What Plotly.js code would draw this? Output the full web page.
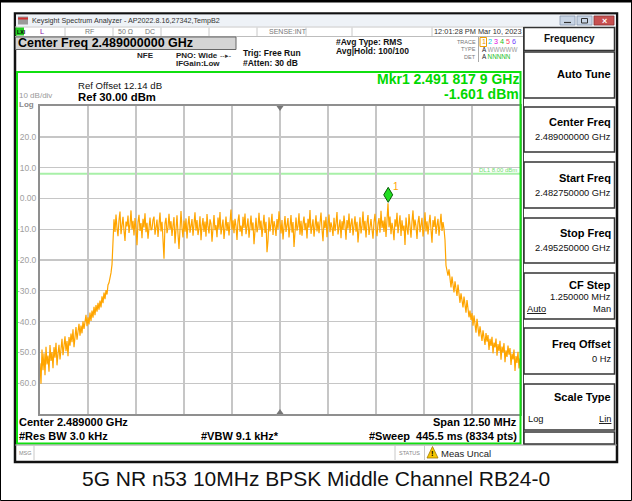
<!DOCTYPE html>
<html>
<head>
<meta charset="utf-8">
<script src="https://cdn.plot.ly/plotly-3.0.1.min.js"></script>
<style>
html,body{margin:0;padding:0;background:#fff;overflow:hidden;}
#chart{width:632px;height:501px;}
</style>
</head>
<body>
<div id="chart"></div>
<script>
// ---------------- DATA ----------------
const startFreqGHz = 2.48275;
const stopFreqGHz = 2.49525;
const centerFreqGHz = 2.489;
const refLevelDbm = 30;
const bottomLevelDbm = -70;
const displayLineDbm = 8.0;
const markerFreqGHz = 2.4918179;
const markerDbm = -1.601;

const yTickVals = [20, 10, 0, -10, -20, -30, -40, -50, -60];
const yTickText = ['20.0', '10.0', '0.00', '-10.0', '-20.0', '-30.0', '-40.0', '-50.0', '-60.0'];

// lower skirt (left of channel)
const leftSkirtDbm = [
 -53.5,-60.2,-49.1,-55.8,-50.3,-57.4,-48.2,-53.9,-51.0,-56.3,
 -47.6,-52.8,-49.9,-55.1,-48.3,-51.7,-46.9,-54.2,-50.4,-47.5,
 -52.3,-48.1,-45.6,-50.9,-47.2,-44.8,-49.6,-46.3,-51.2,-45.0,
 -47.8,-43.9,-46.7,-42.5,-48.3,-44.1,-41.8,-45.9,-43.2,-40.7,
 -44.6,-41.3,-43.8,-39.9,-42.4,-40.2,-37.8,-41.5,-38.6,-40.9,
 -37.1,-39.8,-36.4,-38.7,-35.2,-37.9,-34.6,-36.8,-33.9,-36.1,
 -33.2,-35.4,-31.8,-34.0,-30.6,-32.7,-29.8,-31.2,-28.1,-27.4,
 -25.9,-24.2,-21.5,-13.8
];
// occupied channel
const channelDbm = [
 -6.8,-10.9,-5.2,-9.7,-12.3,-7.1,-4.3,-11.6,-8.2,-6.0,
 -10.4,-13.8,-7.5,-9.1,-5.6,-11.2,-8.7,-3.9,-10.1,-7.3,
 -12.0,-6.4,-9.8,-15.2,-7.7,-5.3,-10.6,-8.0,-12.9,-6.6,
 -9.4,-4.8,-11.0,-7.9,-13.1,-8.5,-6.2,-10.3,-9.9,-7.0,
 -5.9,-11.8,-8.4,-6.9,-12.5,-9.2,-4.6,-10.7,-7.6,-13.4,
 -19.6,-8.1,-6.3,-11.3,-9.5,-5.0,-10.0,-7.4,-12.2,-8.8,
 -6.1,-14.6,-9.0,-5.5,-11.5,-16.4,-10.2,-4.1,-9.6,-12.7,
 -7.2,-10.8,-6.5,-13.0,-8.6,-5.7,-11.1,-9.3,-6.7,-12.1,
 -8.3,-4.5,-10.5,-7.0,-11.9,-9.7,-5.8,-13.6,-8.9,-6.4,
 -10.9,-7.5,-12.4,-5.1,-9.1,-11.4,-6.8,-8.2,-14.1,-7.9,
 -5.4,-10.3,-8.7,-12.6,-6.2,-9.9,-4.4,-11.7,-8.0,-6.9,
 -13.2,-9.5,-5.9,-10.6,-7.7,-12.0,-8.4,-3.6,-10.2,-7.1,
 -11.3,-6.6,-9.0,-13.5,-7.3,-5.2,-10.8,-8.8,-12.3,-6.0,
 -9.6,-4.9,-11.6,-8.1,-6.5,-12.8,-9.2,-5.6,-10.4,-7.8,
 -14.9,-8.5,-6.3,-11.0,-9.4,-4.7,-10.1,-7.2,-12.5,-8.9,
 -5.3,-11.2,-7.6,-17.5,-13.7,-6.1,-10.7,-8.3,-5.0,-11.9,
 -7.4,-9.1,-12.2,-6.7,-10.0,-4.2,-8.6,-11.4,-7.0,-13.3,
 -9.3,-5.7,-10.9,-8.0,-6.4,-12.7,-9.6,-5.4,-11.1,-7.7,
 -15.8,-8.7,-6.2,-10.5,-9.0,-4.8,-11.8,-7.3,-12.1,-8.2,
 -5.9,-10.3,-7.9,-13.0,-6.6,-9.5,-3.8,-11.5,-8.4,-6.8,
 -12.4,-9.2,-5.5,-10.7,-7.5,-11.3,-8.8,-4.6,-10.0,-13.9,
 -7.1,-9.7,-6.0,-12.6,-8.5,-5.2,-11.0,-7.8,-9.4,-12.2,
 -6.3,-10.6,-8.1,-4.4,-11.7,-9.0,-6.9,-12.9,-7.4,-10.2,
 -5.6,-8.9,-13.4,-7.0,-9.8,-4.9,-11.2,-8.3,-6.5,-12.0,
 -9.5,-5.8,-10.8,-7.6,-14.3,-8.6,-6.1,-11.4,-9.1,-4.3,
 -10.4,-7.3,-12.7,-8.0,-5.4,-11.9,-9.3,-6.7,-10.1,-13.1,
 -7.7,-5.0,-9.9,-12.3,-8.2,-6.4,-11.1,-4.0,-9.6,-7.2,
 -10.9,-6.0,-12.5,-8.5,-1.601,-9.4,-5.9,-11.6,-7.9,-10.0,
 -13.6,-6.8,-9.2,-4.7,-11.3,-8.4,-5.5,-12.2,-7.1,-10.5,
 -8.8,-15.1,-6.2,-9.7,-11.8,-5.1,-8.0,-12.8,-7.5,-3.9,
 -10.3,-6.9,-9.0,-13.2,-7.8,-5.7,-11.0,-8.6,-6.3,-12.4,
 -9.8,-4.5,-10.7,-7.4,-11.7,-8.2,-5.3,-10.1,-14.4,-7.0,
 -9.3,-5.8,-11.5,-8.7,-6.6,-12.1,-9.5,-5.0,-10.6,-7.7,-9.9
];
// upper skirt (right of channel)
const rightSkirtDbm = [
 -13.5,-21.8,-23.4,-25.1,-23.0,
 -26.1,-28.9,-25.4,-27.8,-30.5,-26.9,-29.3,-31.7,-28.0,-30.2,
 -33.9,-30.8,-32.6,-35.4,-31.9,-34.2,-37.1,-33.0,-35.8,-38.6,
 -36.4,-39.5,-37.2,-41.3,-38.0,-40.4,-43.6,-39.1,-42.2,-44.8,
 -41.5,-43.9,-46.3,-42.8,-45.1,-47.6,-43.7,-46.5,-44.4,-49.2,
 -45.6,-47.9,-44.9,-50.3,-46.8,-48.4,-45.5,-51.1,-47.3,-49.6,
 -46.2,-52.4,-48.1,-50.0,-47.0,-53.2,-49.3,-51.5,-47.8,-50.7,
 -48.6,-54.1,-50.4,-52.3,-49.1,-56.0,-51.2,-53.4,-49.8,-55.2,-51.9
];

// ---------------- BUILD ----------------
const traceDbm = leftSkirtDbm.concat(channelDbm, rightSkirtDbm);
const nPts = traceDbm.length;
const traceFreq = traceDbm.map((_, i) => startFreqGHz + i * (stopFreqGHz - startFreqGHz) / (nPts - 1));
const xGrid = [];
for (let k = 0; k <= 10; k++) xGrid.push(startFreqGHz + k * (stopFreqGHz - startFreqGHz) / 10);

const FONT = 'Liberation Sans, Arial, Helvetica, sans-serif';
const W = 632, H = 501, ML = 40, MR = 112, MT = 106, MB = 87;
const PW = W - ML - MR, PH = H - MT - MB;
const X = p => (p - ML) / PW;
const Y = p => (H - MB - p) / PH;

const shapes = [];
const annotations = [];
function rect(x0, y0, x1, y1, fill, lineColor, lw, layer) {
  shapes.push({type: 'rect', xref: 'paper', yref: 'paper', layer: layer || 'above',
    x0: X(x0), x1: X(x1), y0: Y(y1), y1: Y(y0),
    fillcolor: fill || 'rgba(0,0,0,0)', line: {color: lineColor || 'rgba(0,0,0,0)', width: lw || 0}});
}
function seg(x0, y0, x1, y1, color, width) {
  shapes.push({type: 'line', xref: 'paper', yref: 'paper', x0: X(x0), x1: X(x1), y0: Y(y0), y1: Y(y1),
    line: {color: color, width: width}});
}
function txt(x, y, s, size, color, anchor, extra) {
  annotations.push(Object.assign({xref: 'paper', yref: 'paper', x: X(x), y: Y(y), text: s,
    showarrow: false, xanchor: anchor || 'left', yanchor: 'middle', borderpad: 0,
    font: {family: FONT, size: size, color: color}}, extra || {}));
}

// outer image border
rect(0.5, 0.5, 631.5, 500.5, null, '#000', 1);
seg(0, 1, 632, 1, '#000', 3);
// window frame
rect(15, 13.5, 617, 462, '#ffffff', '#111', 2.5, 'below');
// title bar
rect(16, 14.5, 616, 26.5, '#eef2f7', null, 0);
rect(18, 16.5, 28, 24.5, '#9a9a9a', null, 0);
seg(18, 18.5, 28, 18.5, '#d03030', 2);
txt(31, 20.5, 'Keysight Spectrum Analyzer - AP2022.8.16,27342,TempB2', 7.2, '#333');
rect(560, 16, 575, 25, '#c9d5e5', '#8b9bb0', 0.8);
seg(564, 22.5, 571, 22.5, '#333', 1.2);
rect(577, 16, 592, 25, '#c9d5e5', '#8b9bb0', 0.8);
rect(581.5, 18.5, 587.5, 23, null, '#333', 1);
rect(594, 16, 614, 25, '#c85050', '#8a3030', 0.8);
txt(604, 20.5, '<b>×</b>', 9, '#fff', 'center');

// row 2 (status strip)
seg(15, 27, 523, 27, '#c8c8c8', 1);
seg(15, 36.5, 523, 36.5, '#bdbdbd', 1);
rect(15.5, 27.5, 24, 35.5, '#22cc22', null, 0);
txt(15.8, 31.5, '<b>LXI</b>', 5.2, '#000');
txt(39, 31.5, 'L', 7.5, '#8a10a8');
txt(84, 31.5, 'RF', 7, '#777');
txt(117, 31.5, '50 Ω', 7, '#777');
txt(144, 31.5, 'DC', 7, '#777');
txt(268, 31.5, 'SENSE:INT', 7, '#777');
txt(433, 31.5, '12:01:28 PM Mar 10, 2023', 7.4, '#333');
[65, 113, 161, 209, 257, 306, 352, 432].forEach(x => seg(x, 27.5, x, 36, '#c8c8c8', 1));

// header
rect(15.5, 37, 236, 49.5, '#d4d4d4', '#666', 1);
txt(17, 43.5, '<b>Center Freq 2.489000000 GHz</b>', 12.5, '#000');
txt(136, 55, '<b>NFE</b>', 8, '#222');
txt(175, 55, '<b>PNO: Wide</b>', 8, '#222');
txt(219, 55, '‑‑▸‑', 7, '#333');
txt(175, 64, '<b>IFGain:Low</b>', 8, '#222');
txt(242, 52.5, '<b>Trig: Free Run</b>', 8.5, '#111');
txt(242, 62.5, '<b>#Atten: 30 dB</b>', 8.5, '#111');
txt(335, 42, '<b>#Avg Type: RMS</b>', 8.5, '#111');
txt(335, 51.5, '<b>Avg|Hold: 100/100</b>', 8.5, '#111');
txt(477, 42, 'TRACE', 5.5, '#777', 'right');
txt(477, 49.5, 'TYPE', 5.5, '#777', 'right');
txt(477, 57, 'DET', 5.5, '#777', 'right');
seg(478.5, 37, 478.5, 62, '#aaa', 1);
rect(480, 37.5, 486.5, 46.5, null, '#f0a000', 1);
txt(481, 42, '<span style="color:#e89a00">1</span> <span style="color:#00c8e6">2</span> <span style="color:#e000e0">3</span> <span style="color:#20c020">4</span> <span style="color:#ff4060">5</span> <span style="color:#7040ff">6</span>', 7.2, '#000');
txt(481, 49.5, 'A <span style="color:#9a9a9a">WWWWW</span>', 6.3, '#222');
txt(481, 57, 'A <span style="color:#20c020">NNNNN</span>', 6.3, '#222');

// green graticule frame
rect(17, 72, 520.5, 443.5, null, '#10e010', 2);
txt(77, 85.5, 'Ref Offset 12.14 dB', 9.6, '#111');
txt(77, 97, '<b>Ref 30.00 dBm</b>', 11.3, '#000');
txt(18, 96, '10 dB/div', 8, '#9a9a9a');
txt(18, 105, '<b>Log</b>', 8, '#8a8a8a');
txt(520, 78.5, '<b>Mkr1 2.491 817 9 GHz</b>', 14, '#00d800', 'right');
txt(520, 93.5, '<b>-1.601 dBm</b>', 14, '#00d800', 'right');

// bottom annotation lines
txt(18, 422, '<b>Center 2.489000 GHz</b>', 11, '#000');
txt(518, 422, '<b>Span 12.50 MHz</b>', 11, '#000', 'right');
txt(18, 436, '<b>#Res BW 3.0 kHz</b>', 11, '#000');
txt(200, 436, '<b>#VBW 9.1 kHz*</b>', 11, '#000');
txt(518, 436, '<b>#Sweep  445.5 ms (8334 pts)</b>', 11, '#000', 'right');

// status bar
seg(15, 445, 617, 445, '#999', 1);
seg(34, 445, 34, 461, '#c8c8c8', 1);
seg(395, 445, 395, 461, '#c8c8c8', 1);
seg(424.5, 445, 424.5, 461, '#c8c8c8', 1);
txt(18, 452.5, 'MSG', 5.5, '#888');
txt(398, 452.5, 'STATUS', 5.5, '#888');
shapes.push({type: 'path', xref: 'paper', yref: 'paper',
  path: 'M' + X(432.5) + ',' + Y(446.5) + ' L' + X(438) + ',' + Y(458) + ' L' + X(427) + ',' + Y(458) + ' Z',
  fillcolor: '#f7c600', line: {color: '#a07800', width: 0.8}});
txt(432.5, 453.5, '<b>!</b>', 7.5, '#000', 'center');
txt(440, 453, 'Meas Uncal', 9.5, '#222');

// right soft-key panel
seg(523.5, 27, 523.5, 444, '#444', 1);
rect(524, 27.5, 614.5, 50.5, '#fff', '#333', 1.5);
txt(569, 38.5, '<b>Frequency</b>', 10, '#111', 'center');
rect(524, 52, 614.5, 98, '#fff', '#333', 1.5);
txt(612, 74, '<b>Auto Tune</b>', 11, '#000', 'right');
const keys = [
  {y0: 107, y1: 152, label: 'Center Freq', ly: 122, value: '2.489000000 GHz', vy: 137},
  {y0: 162, y1: 208, label: 'Start Freq', ly: 177.5, value: '2.482750000 GHz', vy: 192.5},
  {y0: 218, y1: 263, label: 'Stop Freq', ly: 233, value: '2.495250000 GHz', vy: 248},
  {y0: 273, y1: 319, label: 'CF Step', ly: 285, value: '1.250000 MHz', vy: 296.5},
  {y0: 328, y1: 374, label: 'Freq Offset', ly: 344, value: '0 Hz', vy: 359},
  {y0: 384, y1: 430, label: 'Scale Type', ly: 396.5, value: null}
];
keys.forEach(k => {
  rect(524, k.y0, 614.5, k.y1, '#fff', '#333', 1.5);
  txt(612, k.ly, '<b>' + k.label + '</b>', 11, '#000', 'right');
  if (k.value) txt(612, k.vy, k.value, 9.3, '#111', 'right');
});
txt(526, 308.5, '<u>Auto</u>', 9.3, '#111');
txt(612, 308.5, 'Man', 9.3, '#111', 'right');
txt(527, 419, 'Log', 9.3, '#111');
txt(612, 419, '<u>Lin</u>', 9.3, '#111', 'right');
rect(524, 432, 614.5, 444, '#fff', '#333', 1.5);

// caption
txt(316, 478, '5G NR n53 10MHz BPSK Middle Channel RB24-0', 21, '#111', 'center');

// data-anchored marks: display line, center triangles, marker
shapes.push({type: 'line', xref: 'paper', x0: 0, x1: 1, yref: 'y', y0: displayLineDbm, y1: displayLineDbm,
  line: {color: '#a8f0a8', width: 2}, layer: 'below'});
annotations.push({xref: 'paper', x: 1, yref: 'y', y: displayLineDbm, xanchor: 'right', yanchor: 'middle',
  xshift: -2, yshift: 4, showarrow: false, text: 'DL1 8.00 dBm', borderpad: 0,
  font: {family: FONT, size: 6, color: '#6fe06f'}});
shapes.push({type: 'path', xref: 'x', yref: 'y', xsizemode: 'pixel', ysizemode: 'pixel',
  xanchor: centerFreqGHz, yanchor: refLevelDbm, path: 'M-3.5,0 L3.5,0 L0,-5 Z',
  fillcolor: '#777', line: {width: 0}});
shapes.push({type: 'path', xref: 'x', yref: 'y', xsizemode: 'pixel', ysizemode: 'pixel',
  xanchor: centerFreqGHz, yanchor: bottomLevelDbm, path: 'M-3.5,0 L3.5,0 L0,5 Z',
  fillcolor: '#777', line: {width: 0}});
shapes.push({type: 'path', xref: 'x', yref: 'y', xsizemode: 'pixel', ysizemode: 'pixel',
  xanchor: markerFreqGHz, yanchor: markerDbm, path: 'M0,1 L4.5,8.5 L0,16 L-4.5,8.5 Z',
  fillcolor: '#22dd22', line: {color: '#0a5a0a', width: 1}});
annotations.push({xref: 'x', yref: 'y', x: markerFreqGHz, y: markerDbm, xshift: 8, yshift: 17,
  showarrow: false, text: '1', font: {family: FONT, size: 10, color: '#ffa500'}});

const data = [{
  type: 'scatter', mode: 'lines', x: traceFreq, y: traceDbm,
  line: {color: '#ffa500', width: 1.2}, hoverinfo: 'skip'
}];

const layout = {
  width: W, height: H,
  margin: {l: ML, r: MR, t: MT, b: MB, pad: 0},
  paper_bgcolor: '#ffffff', plot_bgcolor: '#ffffff',
  showlegend: false,
  font: {family: FONT},
  xaxis: {range: [startFreqGHz, stopFreqGHz], tickmode: 'array', tickvals: xGrid,
    showticklabels: false, ticks: '', showgrid: true, gridcolor: '#c6c6c6', gridwidth: 1.4,
    zeroline: false, showline: true, mirror: true, linecolor: '#8f8f8f', linewidth: 2, fixedrange: true},
  yaxis: {range: [bottomLevelDbm, refLevelDbm], tickmode: 'array', tickvals: yTickVals, ticktext: yTickText,
    tickfont: {size: 8.5, color: '#a0a0a0', family: FONT}, ticks: '', showgrid: true,
    gridcolor: '#c6c6c6', gridwidth: 1.4, zeroline: false, showline: true, mirror: true,
    linecolor: '#8f8f8f', linewidth: 2, fixedrange: true},
  shapes: shapes,
  annotations: annotations
};

Plotly.newPlot('chart', data, layout, {staticPlot: true, displayModeBar: false});
</script>
</body>
</html>
